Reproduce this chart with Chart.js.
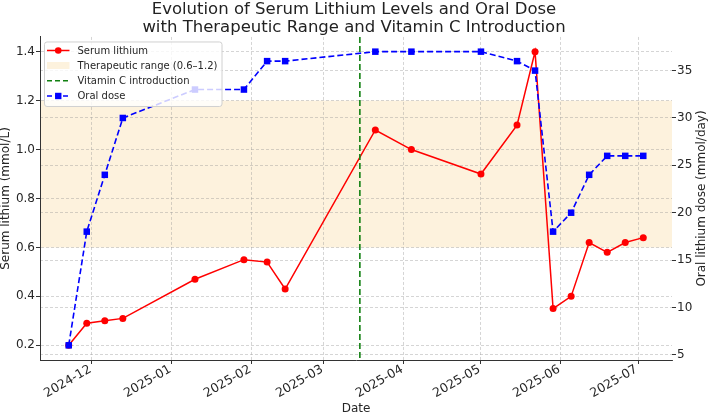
<!DOCTYPE html>
<html>
<head>
<meta charset="utf-8">
<script src="https://cdn.jsdelivr.net/npm/chart.js@4/dist/chart.umd.min.js"></script>
<style>
html,body{margin:0;padding:0;background:#ffffff;}
#wrap{width:708px;height:415px;}
</style>
</head>
<body>
<div id="wrap"><canvas id="c" width="708" height="415"></canvas></div>
<script>
// ---------- data ----------
const titleLines = ['Evolution of Serum Lithium Levels and Oral Dose', 'with Therapeutic Range and Vitamin C Introduction'];

const lithiumDates = ['2024-11-22','2024-11-29','2024-12-06','2024-12-13','2025-01-10','2025-01-29','2025-02-07','2025-02-14','2025-03-21','2025-04-04','2025-05-01','2025-05-15','2025-05-22','2025-05-29','2025-06-05','2025-06-12','2025-06-19','2025-06-26','2025-07-03'];
const lithiumValues = [0.20, 0.29, 0.30, 0.31, 0.47, 0.55, 0.54, 0.43, 1.08, 1.00, 0.90, 1.10, 1.40, 0.35, 0.40, 0.62, 0.58, 0.62, 0.64];

const doseDates = ['2024-11-22','2024-11-29','2024-12-06','2024-12-13','2025-01-10','2025-01-29','2025-02-07','2025-02-14','2025-03-21','2025-04-04','2025-05-01','2025-05-15','2025-05-22','2025-05-29','2025-06-05','2025-06-12','2025-06-19','2025-06-26','2025-07-03'];
const doseValues = [6, 18, 24, 30, 33, 33, 36, 36, 37, 37, 37, 36, 35, 18, 20, 24, 26, 26, 26];

const therapeuticRange = [0.6, 1.2];
const vitaminCDate = '2025-03-15';

const monthTicks = ['2024-12','2025-01','2025-02','2025-03','2025-04','2025-05','2025-06','2025-07'];
const lithiumTicks = [0.2, 0.4, 0.6, 0.8, 1.0, 1.2, 1.4];
const doseTicks = [5, 10, 15, 20, 25, 30, 35];

const legendLabels = ['Serum lithium', 'Therapeutic range (0.6\u20131.2)', 'Vitamin C introduction', 'Oral dose'];

// ---------- helpers ----------
function ts(s) {
  const p = s.split('-').map(Number);
  return Date.UTC(p[0], p[1] - 1, p[2] || 1);
}
function padRange(lo, hi) { const m = (hi - lo) * 0.05; return [lo - m, hi + m]; }

const allX = doseDates.concat(lithiumDates).map(ts);
const xRange = padRange(Math.min(...allX), Math.max(...allX));
const yRange = padRange(Math.min(...lithiumValues), Math.max(...lithiumValues));
const y1Range = padRange(Math.min(...doseValues), Math.max(...doseValues));

const monthMap = {};
monthTicks.forEach(m => { monthMap[ts(m)] = m; });

const RED = '#ff0000', BLUE = '#0000ff', GREEN = '#118011', BAND = 'rgb(253,242,221)';
const GRID = 'rgba(150,150,150,0.5)';
const TXT = '#262626';

Chart.defaults.font.family = "'DejaVu Sans', sans-serif";
Chart.defaults.color = TXT;

// ---------- plugins ----------
const bandPlugin = {
  id: 'band',
  beforeDraw(chart) {
    const {ctx, chartArea: ca, scales} = chart;
    const yTop = scales.y.getPixelForValue(therapeuticRange[1]);
    const yBot = scales.y.getPixelForValue(therapeuticRange[0]);
    ctx.save();
    ctx.fillStyle = BAND;
    ctx.fillRect(ca.left, yTop, ca.right - ca.left, yBot - yTop);
    ctx.restore();
  }
};

const vitCPlugin = {
  id: 'vitc',
  afterDatasetDraw(chart, args) {
    if (args.index !== 1) return;
    const {ctx, chartArea: ca, scales} = chart;
    const x = scales.x.getPixelForValue(ts(vitaminCDate));
    ctx.save();
    ctx.strokeStyle = GREEN;
    ctx.lineWidth = 1.6;
    ctx.setLineDash([6, 3]);
    ctx.beginPath();
    ctx.moveTo(x, ca.top);
    ctx.lineTo(x, ca.bottom);
    ctx.stroke();
    ctx.restore();
  }
};

const overlayPlugin = {
  id: 'overlay',
  afterDraw(chart) {
    const {ctx, chartArea: ca} = chart;
    // right axis title (reads bottom-to-top)
    ctx.save();
    ctx.translate(702, (ca.top + ca.bottom) / 2);
    ctx.rotate(-Math.PI / 2);
    ctx.font = "12px 'DejaVu Sans'";
    ctx.fillStyle = TXT;
    ctx.textAlign = 'center';
    ctx.textBaseline = 'middle';
    ctx.fillText('Oral lithium dose (mmol/day)', 0, 0);
    ctx.restore();

    // legend box
    const L = ca.left + 4.5, T = ca.top + 5, W = 177.5, H = 64.5;
    ctx.save();
    ctx.fillStyle = 'rgba(255,255,255,0.8)';
    ctx.strokeStyle = '#d0d0d0';
    ctx.lineWidth = 1;
    ctx.beginPath();
    if (ctx.roundRect) ctx.roundRect(L, T, W, H, 2.5); else ctx.rect(L, T, W, H);
    ctx.fill();
    ctx.stroke();

    const hx0 = L + 2.5, hx1 = L + 25, tx = L + 33;
    const rows = [T + 8.5, T + 23.5, T + 38.8, T + 54];
    ctx.font = "10px 'DejaVu Sans'";
    ctx.fillStyle = TXT;
    ctx.textAlign = 'left';
    ctx.textBaseline = 'middle';

    // serum lithium
    ctx.strokeStyle = RED; ctx.lineWidth = 1.5; ctx.setLineDash([]);
    ctx.beginPath(); ctx.moveTo(hx0, rows[0]); ctx.lineTo(hx1, rows[0]); ctx.stroke();
    ctx.fillStyle = RED;
    ctx.beginPath(); ctx.arc((hx0 + hx1) / 2, rows[0], 3.3, 0, Math.PI * 2); ctx.fill();
    // band
    ctx.fillStyle = BAND;
    ctx.fillRect(hx0, rows[1] - 3.5, hx1 - hx0, 7);
    // vitamin C
    ctx.strokeStyle = GREEN; ctx.lineWidth = 1.6; ctx.setLineDash([5, 3]);
    ctx.beginPath(); ctx.moveTo(hx0, rows[2]); ctx.lineTo(hx1, rows[2]); ctx.stroke();
    // oral dose
    ctx.strokeStyle = BLUE; ctx.lineWidth = 1.6; ctx.setLineDash([5, 3]);
    ctx.beginPath(); ctx.moveTo(hx0, rows[3]); ctx.lineTo(hx1, rows[3]); ctx.stroke();
    ctx.setLineDash([]);
    ctx.fillStyle = BLUE;
    ctx.fillRect((hx0 + hx1) / 2 - 3.2, rows[3] - 3.2, 6.4, 6.4);

    ctx.fillStyle = TXT;
    legendLabels.forEach((t, i) => ctx.fillText(t, tx, rows[i] + 0.5));
    ctx.restore();
  }
};

// ---------- chart ----------
const gridCommon = {
  color: GRID,
  lineWidth: 0.8,
  tickLength: 4,
  tickColor: '#333333',
  tickWidth: 1
};

new Chart(document.getElementById('c'), {
  type: 'line',
  data: {
    datasets: [
      {
        label: 'Oral dose',
        yAxisID: 'y1',
        data: doseDates.map((d, i) => ({x: ts(d), y: doseValues[i]})),
        borderColor: BLUE,
        backgroundColor: BLUE,
        borderWidth: 1.6,
        borderDash: [6, 3],
        pointStyle: 'rect',
        pointRadius: 4.6,
        pointBorderWidth: 0,
        pointBackgroundColor: BLUE,
        tension: 0,
        fill: false
      },
      {
        label: 'Serum lithium',
        yAxisID: 'y',
        data: lithiumDates.map((d, i) => ({x: ts(d), y: lithiumValues[i]})),
        borderColor: RED,
        backgroundColor: RED,
        borderWidth: 1.5,
        pointStyle: 'circle',
        pointRadius: 3.5,
        pointBorderWidth: 0,
        pointBackgroundColor: RED,
        tension: 0,
        fill: false
      }
    ]
  },
  options: {
    responsive: false,
    devicePixelRatio: 1,
    animation: false,
    events: [],
    layout: {padding: 0},
    plugins: {
      legend: {display: false},
      tooltip: {enabled: false},
      title: {
        display: true,
        text: titleLines,
        font: {size: 16.5, weight: 'normal', lineHeight: 1.06},
        color: '#222222',
        padding: {top: 1, bottom: 1}
      }
    },
    scales: {
      x: {
        type: 'linear',
        min: xRange[0],
        max: xRange[1],
        afterBuildTicks(s) { s.ticks = monthTicks.map(m => ({value: ts(m)})); },
        afterFit(s) { s.height = 55; },
        ticks: {
          autoSkip: false,
          minRotation: 30,
          maxRotation: 30,
          padding: -2,
          labelOffset: -1.5,
          font: {size: 12.5},
          color: TXT,
          callback: (v) => monthMap[v] || ''
        },
        grid: gridCommon,
        border: {display: true, color: '#333333', width: 1, dash: [3, 2]},
        title: {display: true, text: 'Date', font: {size: 12}, color: TXT, padding: {top: 0, bottom: -1}}
      },
      y: {
        type: 'linear',
        position: 'left',
        min: yRange[0],
        max: yRange[1],
        afterBuildTicks(s) { s.ticks = lithiumTicks.map(v => ({value: v})); },
        afterFit(s) { s.width = 40; },
        ticks: {padding: 1, font: {size: 12}, color: TXT, callback: (v) => Number(v).toFixed(1)},
        grid: gridCommon,
        border: {display: true, color: '#333333', width: 1, dash: [3, 2]},
        title: {display: true, text: 'Serum lithium (mmol/L)', font: {size: 12}, color: TXT, padding: {top: -1.7, bottom: 0}}
      },
      y1: {
        type: 'linear',
        position: 'right',
        min: y1Range[0],
        max: y1Range[1],
        afterBuildTicks(s) { s.ticks = doseTicks.map(v => ({value: v})); },
        afterFit(s) { s.width = 36; },
        ticks: {padding: 1, font: {size: 12}, color: TXT, callback: (v) => String(v)},
        grid: gridCommon,
        border: {display: false, dash: [3, 2]},
        title: {display: false}
      }
    }
  },
  plugins: [bandPlugin, vitCPlugin, overlayPlugin]
});
</script>
</body>
</html>
